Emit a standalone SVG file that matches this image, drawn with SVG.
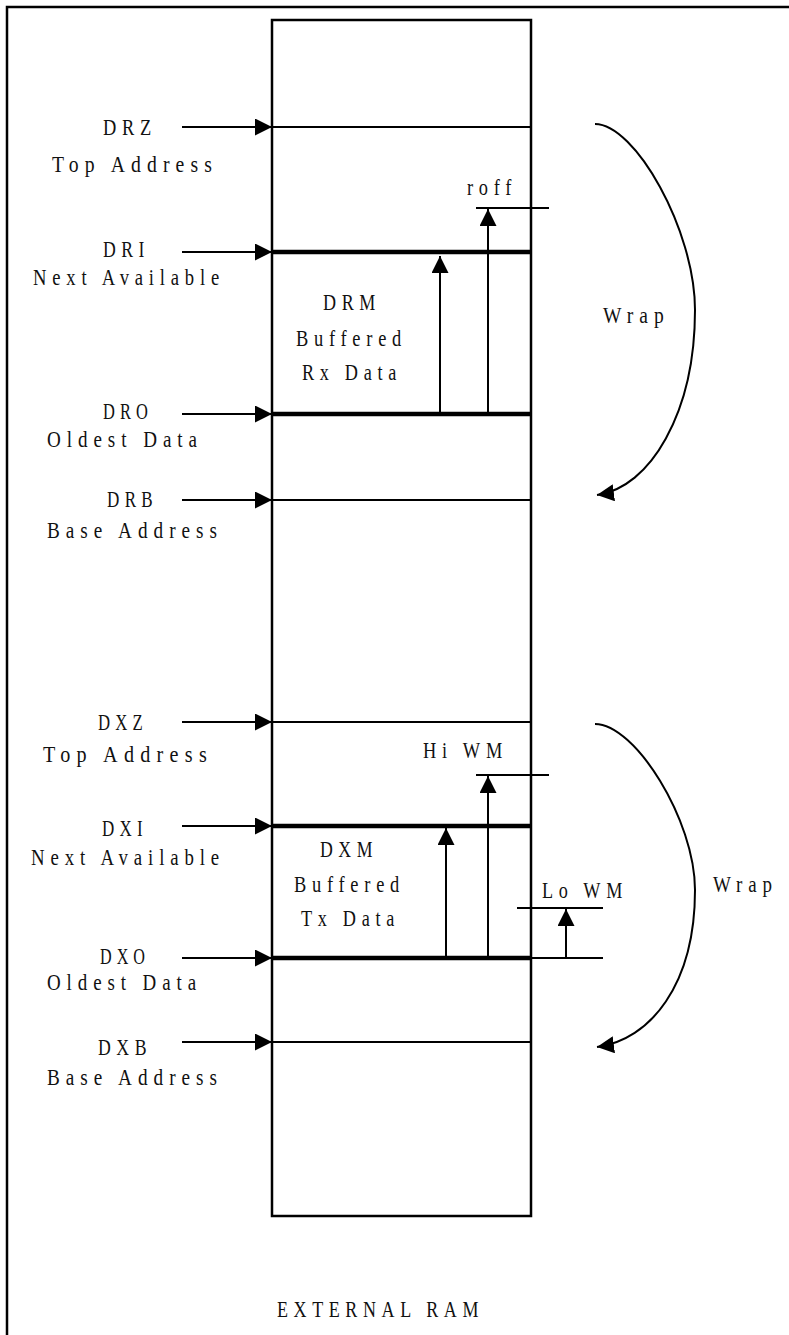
<svg xmlns="http://www.w3.org/2000/svg" width="789" height="1335" viewBox="0 0 789 1335">
<style>
.t{font-family:"Liberation Serif","Times New Roman",serif;font-size:22.5px;fill:#111;letter-spacing:7px}
.thin{stroke:#000;stroke-width:2;fill:none}
.thick{stroke:#000;stroke-width:4.5;fill:none}
.arr{stroke:#000;stroke-width:2;fill:none;marker-end:url(#ah)}
</style>
<defs>
<marker id="ah" markerUnits="userSpaceOnUse" markerWidth="17" markerHeight="17" refX="16" refY="8" orient="auto" viewBox="0 0 16 16">
<path d="M0,0 L16,8 L0,16 z" fill="#000"/>
</marker>
</defs>
<rect width="789" height="1335" fill="#fff"/>
<rect x="7" y="7" width="800" height="1360" fill="none" stroke="#000" stroke-width="2.5"/>
<g id="ram">
<rect x="272" y="20" width="259" height="1196" fill="none" stroke="#000" stroke-width="2.5"/>
<text class="t" x="277" y="1317" textLength="207" lengthAdjust="spacingAndGlyphs">EXTERNAL RAM</text>
</g>
<g id="drz"><line class="thin" x1="272" y1="127" x2="531" y2="127"/>
<text class="t" x="103" y="135" textLength="54" lengthAdjust="spacingAndGlyphs">DRZ</text>
<text class="t" x="52" y="172" textLength="166" lengthAdjust="spacingAndGlyphs">Top Address</text></g>
<g id="dri"><line class="thick" x1="272" y1="252" x2="531" y2="252"/>
<text class="t" x="103" y="257" textLength="47" lengthAdjust="spacingAndGlyphs">DRI</text>
<text class="t" x="33" y="285" textLength="192" lengthAdjust="spacingAndGlyphs">Next Available</text></g>
<g id="dro"><line class="thick" x1="272" y1="414" x2="531" y2="414"/>
<text class="t" x="103" y="419" textLength="50" lengthAdjust="spacingAndGlyphs">DRO</text>
<text class="t" x="47" y="447" textLength="156" lengthAdjust="spacingAndGlyphs">Oldest Data</text></g>
<g id="drb"><line class="thin" x1="272" y1="500" x2="531" y2="500"/>
<text class="t" x="107" y="507" textLength="51" lengthAdjust="spacingAndGlyphs">DRB</text>
<text class="t" x="47" y="538" textLength="176" lengthAdjust="spacingAndGlyphs">Base Address</text></g>
<g id="drm">
<text class="t" x="323" y="310" textLength="58" lengthAdjust="spacingAndGlyphs">DRM</text>
<text class="t" x="296" y="346" textLength="111" lengthAdjust="spacingAndGlyphs">Buffered</text>
<text class="t" x="302" y="380" textLength="100" lengthAdjust="spacingAndGlyphs">Rx Data</text></g>
<g id="roff"><line class="thin" x1="476" y1="208" x2="549" y2="208"/>
<text class="t" x="467" y="195" textLength="50" lengthAdjust="spacingAndGlyphs">roff</text></g>
<g id="wrap1"><text class="t" x="603" y="323" textLength="67" lengthAdjust="spacingAndGlyphs">Wrap</text></g>
<g id="dxz"><line class="thin" x1="272" y1="722" x2="531" y2="722"/>
<text class="t" x="98" y="730" textLength="50" lengthAdjust="spacingAndGlyphs">DXZ</text>
<text class="t" x="43" y="762" textLength="170" lengthAdjust="spacingAndGlyphs">Top Address</text></g>
<g id="dxi"><line class="thick" x1="272" y1="826" x2="531" y2="826"/>
<text class="t" x="102" y="836" textLength="46" lengthAdjust="spacingAndGlyphs">DXI</text>
<text class="t" x="31" y="865" textLength="194" lengthAdjust="spacingAndGlyphs">Next Available</text></g>
<g id="dxo"><line class="thick" x1="272" y1="958" x2="531" y2="958"/>
<line class="thin" x1="531" y1="958" x2="603" y2="958"/>
<text class="t" x="100" y="964" textLength="50" lengthAdjust="spacingAndGlyphs">DXO</text>
<text class="t" x="47" y="990" textLength="155" lengthAdjust="spacingAndGlyphs">Oldest Data</text></g>
<g id="dxb"><line class="thin" x1="272" y1="1042" x2="531" y2="1042"/>
<text class="t" x="98" y="1055" textLength="54" lengthAdjust="spacingAndGlyphs">DXB</text>
<text class="t" x="47" y="1085" textLength="176" lengthAdjust="spacingAndGlyphs">Base Address</text></g>
<g id="dxm">
<text class="t" x="320" y="857" textLength="58" lengthAdjust="spacingAndGlyphs">DXM</text>
<text class="t" x="294" y="892" textLength="111" lengthAdjust="spacingAndGlyphs">Buffered</text>
<text class="t" x="301" y="926" textLength="99" lengthAdjust="spacingAndGlyphs">Tx Data</text></g>
<g id="hiwm"><line class="thin" x1="476" y1="775" x2="549" y2="775"/>
<text class="t" x="423" y="758" textLength="85" lengthAdjust="spacingAndGlyphs">Hi WM</text></g>
<g id="lowm"><line class="thin" x1="517" y1="908" x2="603" y2="908"/>
<text class="t" x="542" y="898" textLength="86" lengthAdjust="spacingAndGlyphs">Lo WM</text></g>
<g id="wrap2"><text class="t" x="713" y="892" textLength="65" lengthAdjust="spacingAndGlyphs">Wrap</text></g>
<g id="connectors">
<line class="arr" x1="182" y1="127" x2="272" y2="127"/>
<line class="arr" x1="182" y1="252" x2="272" y2="252"/>
<line class="arr" x1="182" y1="414" x2="272" y2="414"/>
<line class="arr" x1="182" y1="500" x2="272" y2="500"/>
<line class="arr" x1="182" y1="722" x2="272" y2="722"/>
<line class="arr" x1="182" y1="826" x2="272" y2="826"/>
<line class="arr" x1="182" y1="958" x2="272" y2="958"/>
<line class="arr" x1="182" y1="1042" x2="272" y2="1042"/>
<line class="arr" x1="440" y1="414" x2="440" y2="256"/>
<line class="arr" x1="488" y1="414" x2="488" y2="209"/>
<line class="arr" x1="446" y1="958" x2="446" y2="828"/>
<line class="arr" x1="488" y1="958" x2="488" y2="776"/>
<line class="arr" x1="566" y1="958" x2="566" y2="909"/>
<path class="arr" d="M595,124 C635,124 695,230 695,310 C695,413 650,488 597,495"/>
<path class="arr" d="M595,724 C635,724 695,820 695,890 C695,985 650,1040 597,1047"/>
</g>
</svg>
